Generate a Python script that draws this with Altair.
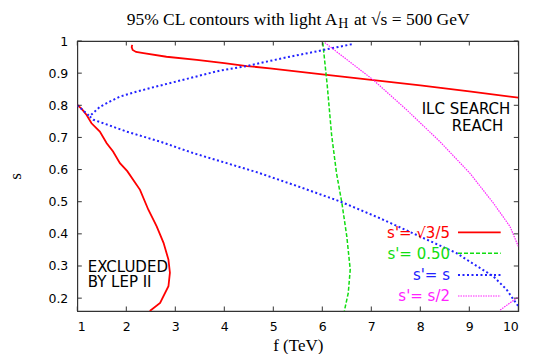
import altair as alt
import pandas as pd

# ---------------- data ----------------
# LEP II exclusion contour (red, solid)
lep_f = [1.00, 1.09, 1.19, 1.29, 1.46, 1.60, 1.73, 1.87, 2.02, 2.28, 2.45, 2.62, 2.76, 2.86, 2.89, 2.86, 2.69, 2.48]
lep_s = [0.801, 0.789, 0.770, 0.744, 0.718, 0.682, 0.656, 0.620, 0.595, 0.537, 0.475, 0.423, 0.372, 0.320, 0.279, 0.237, 0.185, 0.160]

# s' = sqrt(3/5) reach (red, solid)
r_f = [2.12, 2.11, 2.13, 2.20, 2.35, 2.82, 3.44, 4.00, 4.46, 4.93, 6.00, 7.00, 8.00, 9.00, 10.0]
r_s = [0.988, 0.981, 0.972, 0.966, 0.962, 0.951, 0.941, 0.931, 0.922, 0.915, 0.896, 0.879, 0.862, 0.843, 0.824]

# s' = 0.50 reach (green, dashed)
g_f = [6.01, 6.10, 6.19, 6.29, 6.40, 6.50, 6.57, 6.53, 6.45]
g_s = [0.995, 0.863, 0.708, 0.589, 0.496, 0.392, 0.289, 0.216, 0.160]

# s' = s reach (blue, dotted): upper branch, cusp, lower branch
b_f = [6.60, 6.02, 5.70, 5.30, 4.93, 4.46, 3.91, 3.23, 2.55, 2.20, 1.87, 1.67, 1.46, 1.25,
       1.33, 2.01, 2.69, 3.37, 4.05, 4.66, 5.50, 6.36, 7.20, 7.99, 8.74, 9.10, 9.49, 9.76, 9.90, 10.0]
b_s = [0.990, 0.972, 0.962, 0.950, 0.938, 0.922, 0.908, 0.882, 0.856, 0.842, 0.827, 0.812, 0.795, 0.766,
       0.755, 0.718, 0.687, 0.651, 0.620, 0.592, 0.548, 0.501, 0.447, 0.392, 0.340, 0.305, 0.268, 0.227, 0.196, 0.175]
b2_f = [1.00, 1.25]
b2_s = [0.800, 0.766]

# s' = s/2 reach (magenta, dotted)
m_f = [6.05, 7.04, 7.72, 8.40, 9.01, 9.49, 9.83, 10.0]
m_s = [0.995, 0.879, 0.786, 0.687, 0.589, 0.496, 0.423, 0.361]
m2_f = [9.63, 10.0]
m2_s = [0.163, 0.204]

x_ticks = [1, 2, 3, 4, 5, 6, 7, 8, 9, 10]
y_ticks = [0.2, 0.3, 0.4, 0.5, 0.6, 0.7, 0.8, 0.9, 1.0]

legend_labels = ["s'= \u221a3/5", "s'= 0.50", "s'= s", "s'= s/2"]
title_main = "95% CL contours with light A"
title_sub = "H"
title_tail = "at \u221as = 500 GeV"
x_title = "f (TeV)"
y_title = "s"

# ---------------- helpers ----------------
W, H = 441, 270
RED, GREEN, BLUE, MAG = "#ff0000", "#11dd11", "#2222ff", "#ff22ff"
SANS = "DejaVu Sans"
SERIF = "Liberation Serif"

xs = alt.Scale(domain=[1, 10], nice=False, zero=False)
ys = alt.Scale(domain=[0.16, 1], nice=False, zero=False)
xaxis = alt.Axis(values=x_ticks, format="~r", title=x_title, titleY=39.5,
                 titleBaseline="alphabetic", labelPadding=9.5)
yaxis = alt.Axis(values=y_ticks, format="~r", title=y_title, titleX=-57, titleY=135,
                 titleBaseline="alphabetic", labelPadding=9.5)


def df_of(fs, ss, seg=0):
    return pd.DataFrame({"f": fs, "s": ss, "i": list(range(len(fs))), "seg": [seg] * len(fs)})


def curve(df, color, width, dash=None):
    kw = dict(color=color, strokeWidth=width, clip=True)
    if dash:
        kw["strokeDash"] = dash
    return alt.Chart(df).mark_line(**kw).encode(
        x=alt.X("f:Q", scale=xs, axis=xaxis),
        y=alt.Y("s:Q", scale=ys, axis=yaxis),
        order="i:Q",
        detail="seg:N",
    )


one = pd.DataFrame({"a": [0]})


def label(text, x, y, color="black", size=15, align="left", font=SANS, baseline="alphabetic"):
    return alt.Chart(one).mark_text(text=text, color=color, fontSize=size, font=font,
                                    align=align, baseline=baseline).encode(
        x=alt.value(x), y=alt.value(y))


def sample(x1, x2, y, color, width, dash=None):
    kw = dict(color=color, strokeWidth=width)
    if dash:
        kw["strokeDash"] = dash
    return alt.Chart(one).mark_rule(**kw).encode(x=alt.value(x1), x2=alt.value(x2), y=alt.value(y))


layers = []
DASH_G = [4, 2]
DASH_B = [2, 2.5]
DASH_M = [1.5, 1]

layers.append(curve(df_of(lep_f, lep_s), RED, 1.8))
layers.append(curve(df_of(r_f, r_s), RED, 1.8))
layers.append(curve(df_of(g_f, g_s), GREEN, 1.5, DASH_G))
layers.append(curve(pd.concat([df_of(b_f, b_s, 0), df_of(b2_f, b2_s, 1)]), BLUE, 2, DASH_B))
layers.append(curve(pd.concat([df_of(m_f, m_s, 0), df_of(m2_f, m2_s, 1)]), MAG, 1.2, DASH_M))

# inward ticks on all four sides
xt = pd.DataFrame({"v": x_ticks})
yt = pd.DataFrame({"v": y_ticks})
TK = 4.5
TC = "#333333"
layers.append(alt.Chart(xt).mark_rule(color=TC, strokeWidth=1).encode(
    x=alt.X("v:Q", scale=xs, axis=xaxis), y=alt.value(H), y2=alt.value(H - TK)))
layers.append(alt.Chart(xt).mark_rule(color=TC, strokeWidth=1).encode(
    x=alt.X("v:Q", scale=xs, axis=xaxis), y=alt.value(0), y2=alt.value(TK)))
layers.append(alt.Chart(yt).mark_rule(color=TC, strokeWidth=1).encode(
    y=alt.Y("v:Q", scale=ys, axis=yaxis), x=alt.value(0), x2=alt.value(TK)))
layers.append(alt.Chart(yt).mark_rule(color=TC, strokeWidth=1).encode(
    y=alt.Y("v:Q", scale=ys, axis=yaxis), x=alt.value(W), x2=alt.value(W - TK)))

# annotations
layers.append(label("ILC SEARCH", 344.4, 73.3))
layers.append(label("REACH", 374.4, 89.8))
layers.append(label("EXCLUDED", 10.4, 230.7))
layers.append(label("BY LEP II", 10.4, 246.5))

# legend
leg_colors = [RED, GREEN, BLUE, MAG]
leg_text_y = [197.3, 218.0, 239.5, 260.5]
leg_line_y = [191.3, 212.3, 234.0, 255.0]
leg_width = [1.8, 1.5, 2, 1.2]
leg_dash = [None, DASH_G, DASH_B, DASH_M]
for t, c, ty, ly, w, d in zip(legend_labels, leg_colors, leg_text_y, leg_line_y, leg_width, leg_dash):
    layers.append(label(t, 372.7, ty, color=c, align="right"))
    layers.append(sample(380.7, 423.4, ly, c, w, d))

# title with subscript
layers.append(label(title_main, 260, -16, size=17.5, align="right", font=SERIF))
layers.append(label(title_sub, 261, -12.7, size=14, align="left", font=SERIF))
layers.append(label(title_tail, 276.7, -16, size=17.5, align="left", font=SERIF))

chart = alt.layer(*layers).properties(
    width=W, height=H,
    autosize=alt.AutoSizeParams(type="none"),
    padding={"left": 69.3, "top": 33, "right": 18, "bottom": 43},
).configure_view(
    stroke="#333333", strokeWidth=1.2
).configure_axis(
    domain=False, ticks=False, tickSize=0, grid=False,
    labelFont=SANS, labelFontSize=12.5, labelColor="black",
    titleFont=SERIF, titleFontSize=17, titleFontWeight="normal", titleColor="black",
)

chart.save("out.html", embed_options={"renderer": "svg", "actions": False})
